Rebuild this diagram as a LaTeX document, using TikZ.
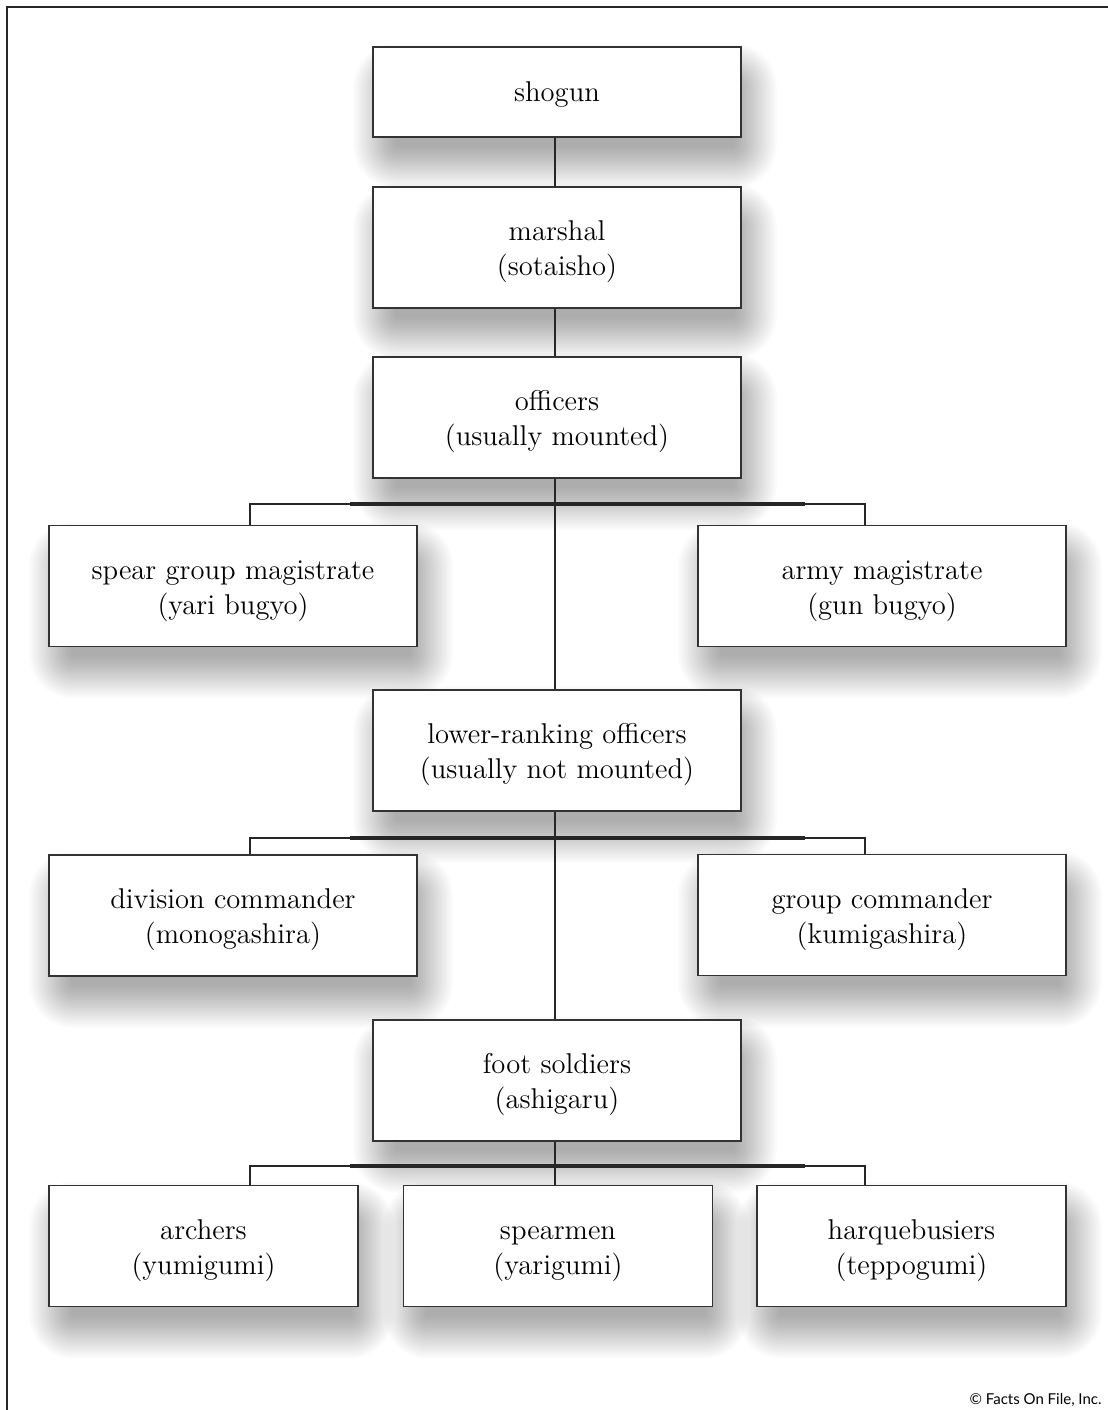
\documentclass[tikz,border=0pt]{standalone}
\usepackage{fontspec}
\newfontfamily\cpfont{Lato}
\usetikzlibrary{calc,backgrounds}
\newcommand\twol[2]{\rule{0pt}{14.5pt}#1\\#2\rule[-2.4pt]{0pt}{2.4pt}}
\begin{document}
\begin{tikzpicture}[x=0.5pt,y=-0.5pt,
  box/.style={draw=black!80, line width=0.75pt, fill=white, align=center,
    inner sep=0pt, minimum width=184pt, minimum height=60.5pt,
    font=\fontsize{14.3}{17.5}\selectfont},
  smallbox/.style={box, minimum width=154.5pt},
  conn/.style={draw=black!85, line width=0.55pt},
  bus/.style={draw=black!85, line width=1.6pt},
  frame/.style={draw=black!85, line width=1.1pt},
  shade/.style={fill=black, opacity=0.016}]
\useasboundingbox (0,0) rectangle (1108,1410);
\draw[frame] (7,1410) -- (7,7) -- (1108,7);

\node[box, minimum height=45pt] (shogun) at (557,92) {\rule{0pt}{13pt}shogun\rule[-4pt]{0pt}{4pt}};
\node[box] (marshal) at (557,247.5) {\twol{marshal}{(sotaisho)}};
\node[box] (officers) at (557,417.5) {\twol{officers}{(usually mounted)}};
\node[box] (spear) at (233,586) {\twol{spear group magistrate}{(yari bugyo)}};
\node[box] (army) at (882,586) {\twol{army magistrate}{(gun bugyo)}};
\node[box] (lower) at (557,750.5) {\twol{lower-ranking officers}{(usually not mounted)}};
\node[box] (division) at (233,915.5) {\twol{division commander}{(monogashira)}};
\node[box] (group) at (882,915) {\twol{group commander}{(kumigashira)}};
\node[box] (foot) at (557,1080.5) {\twol{foot soldiers}{(ashigaru)}};
\node[smallbox] (archers) at (203.5,1246) {\twol{archers}{(yumigumi)}};
\node[smallbox] (spearmen) at (558,1246) {\twol{spearmen}{(yarigumi)}};
\node[smallbox] (harq) at (911.5,1246) {\twol{harquebusiers}{(teppogumi)}};

\begin{scope}[on background layer]
\fill[white] (0,0) rectangle (1108,1410);
\foreach \n in {shogun,marshal,officers,spear,army,lower,division,group,foot,archers,spearmen,harq}{
  \foreach \e in {27,25,...,-15}{
    \pgfmathsetmacro\rc{(\e+17)*0.5}
    \fill[shade, rounded corners=\rc pt] ($(\n.north west)+(8-\e,24-\e)$) rectangle ($(\n.south east)+(8+\e,24+\e)$);
  }
}
\end{scope}

\coordinate (dL) at (250,0);
\coordinate (dR) at (865,0);
\coordinate (bA) at (555,504);
\coordinate (bA1) at (350,504);
\coordinate (bA2) at (805,504);
\coordinate (bB) at (555,838);
\coordinate (bB1) at (350,838);
\coordinate (bB2) at (805,838);
\coordinate (bC) at (555,1166);
\coordinate (bC1) at (350,1166);
\coordinate (bC2) at (805,1166);

\draw[conn] (shogun.south -| bA) -- (marshal.north -| bA);
\draw[conn] (marshal.south -| bA) -- (officers.north -| bA);
\draw[conn, line width=0.75pt] (officers.south -| bA) -- (lower.north -| bA);
\draw[conn] (spear.north -| dL) |- (bA) -| (army.north -| dR);
\draw[bus] (bA1) -- (bA2);
\draw[conn, line width=0.75pt] (lower.south -| bB) -- (foot.north -| bB);
\draw[conn] (division.north -| dL) |- (bB) -| (group.north -| dR);
\draw[bus] (bB1) -- (bB2);
\draw[conn, line width=0.75pt] (foot.south -| bC) -- (spearmen.north -| bC);
\draw[conn] (archers.north -| dL) |- (bC) -| (harq.north -| dR);
\draw[bus] (bC1) -- (bC2);

\node[anchor=east, font=\cpfont\fontsize{7.5}{9}\selectfont, inner sep=0pt] (copy) at (1102,1400) {© Facts On File, Inc.};
\end{tikzpicture}
\end{document}
